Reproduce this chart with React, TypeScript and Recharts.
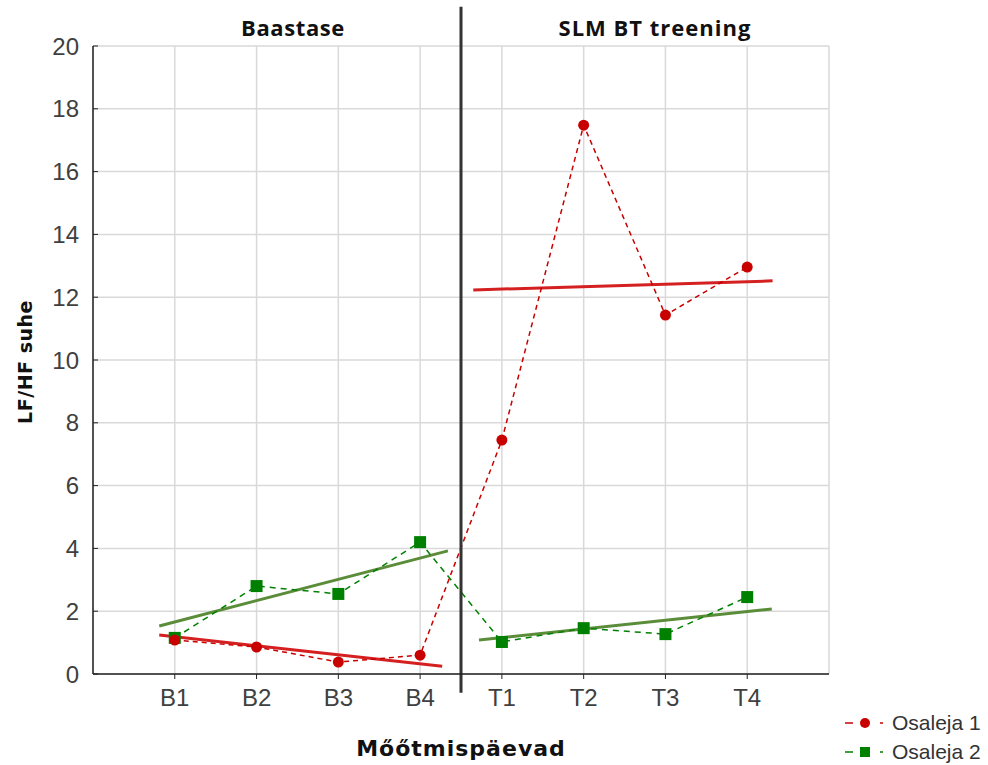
import {
  CartesianGrid,
  ComposedChart,
  Line,
  ReferenceLine,
  XAxis,
  YAxis,
} from "recharts"

const categories = ["B1", "B2", "B3", "B4", "T1", "T2", "T3", "T4"]
const osaleja1 = [1.08, 0.86, 0.38, 0.6, 7.45, 17.48, 11.43, 12.96]
const osaleja2 = [1.15, 2.8, 2.55, 4.2, 1.02, 1.46, 1.27, 2.45]
const yTicks = [0, 2, 4, 6, 8, 10, 12, 14, 16, 18, 20]

// fitted trend lines as [start, end]
const trend1Base = [{ x: 0.81, y: 1.24 }, { x: 4.27, y: 0.25 }]
const trend1Train = [{ x: 4.65, y: 12.23 }, { x: 8.31, y: 12.52 }]
const trend2Base = [{ x: 0.81, y: 1.53 }, { x: 4.34, y: 3.92 }]
const trend2Train = [{ x: 4.72, y: 1.08 }, { x: 8.3, y: 2.07 }]
const phaseSplit = [{ x: 4.5, y: -0.6 }, { x: 4.5, y: 21.25 }]

const data = categories.map((c, i) => ({ x: i + 1, name: c, o1: osaleja1[i], o2: osaleja2[i] }))

const RED = "#c80000"
const GREEN = "#008000"

const SquareDot = (props: any) => {
  const { cx, cy } = props
  if (cx == null || cy == null) return null
  return <rect x={cx - 6} y={cy - 6} width={12} height={12} fill={GREEN} />
}

const LegendBox = () => (
  <div
    style={{
      position: "absolute",
      left: 840,
      top: 708,
      fontFamily: "'Liberation Sans', Arial, sans-serif",
      fontSize: 21,
      color: "#333",
    }}
  >
    {[
      { label: "Osaleja 1", color: RED, square: false },
      { label: "Osaleja 2", color: GREEN, square: true },
    ].map((it) => (
      <div key={it.label} style={{ display: "flex", alignItems: "center", height: 29 }}>
        <svg width={50} height={14}>
          <line x1={5} y1={7} x2={13} y2={7} stroke={it.color} strokeWidth={1.5} />
          {it.square ? (
            <rect x={20} y={2} width={10} height={10} fill={it.color} />
          ) : (
            <circle cx={25} cy={7} r={5} fill={it.color} />
          )}
          <line x1={40} y1={7} x2={43} y2={7} stroke={it.color} strokeWidth={1.5} />
        </svg>
        <span style={{ marginLeft: 2 }}>{it.label}</span>
      </div>
    ))}
  </div>
)

const tickStyle = { fill: "#404040", fontSize: 24, fontFamily: "'Liberation Sans', Arial, sans-serif" }
const headStyle: React.CSSProperties = {
  position: "absolute",
  fontFamily: "'Open Sans', sans-serif",
  fontWeight: 700,
  fontSize: 22,
  letterSpacing: 0.6,
  color: "#111",
  transform: "translate(-50%, -50%)",
  whiteSpace: "nowrap",
}

export default function App() {
  return (
    <div style={{ position: "absolute", left: 0, top: 0, width: 988, height: 765, background: "#fff" }}>
      <ComposedChart width={988} height={765} data={data} margin={{ top: 46, right: 159, bottom: 0, left: 0 }}>
        <CartesianGrid stroke="#d9d9d9" strokeWidth={1.5} />
        <XAxis
          dataKey="x"
          type="number"
          domain={[0, 9]}
          ticks={[1, 2, 3, 4, 5, 6, 7, 8]}
          tickFormatter={(v) => categories[v - 1]}
          height={91}
          tickSize={5}
          tickMargin={10}
          axisLine={{ stroke: "#222", strokeWidth: 1.5 }}
          tickLine={{ stroke: "#222" }}
          tick={tickStyle}
        />
        <XAxis
          xAxisId="top"
          orientation="top"
          dataKey="x"
          type="number"
          domain={[0, 9]}
          ticks={[1, 2, 3, 4, 5, 6, 7, 8]}
          height={0}
          tick={false}
          tickSize={-5}
          axisLine={{ stroke: "#222", strokeWidth: 1.5 }}
          tickLine={{ stroke: "#222" }}
        />
        <YAxis
          type="number"
          domain={[0, 20]}
          ticks={yTicks}
          width={93}
          tickSize={-5}
          tickMargin={19}
          axisLine={{ stroke: "#222", strokeWidth: 1.5 }}
          tickLine={{ stroke: "#222" }}
          tick={tickStyle}
        />
        <YAxis
          yAxisId="right"
          orientation="right"
          type="number"
          domain={[0, 20]}
          ticks={yTicks}
          width={0}
          tick={false}
          tickSize={-5}
          axisLine={{ stroke: "#222", strokeWidth: 1.5 }}
          tickLine={{ stroke: "#222" }}
        />
        <ReferenceLine segment={trend2Base} stroke="#5b8c3a" strokeWidth={3} ifOverflow="visible" />
        <ReferenceLine segment={trend2Train} stroke="#5b8c3a" strokeWidth={3} ifOverflow="visible" />
        <ReferenceLine segment={trend1Base} stroke="#d42020" strokeWidth={3} ifOverflow="visible" />
        <ReferenceLine segment={trend1Train} stroke="#d42020" strokeWidth={3} ifOverflow="visible" />
        <Line
          dataKey="o2"
          type="linear"
          stroke={GREEN}
          strokeWidth={1.5}
          strokeDasharray="6 5"
          dot={<SquareDot />}
          activeDot={false}
          isAnimationActive={false}
        />
        <Line
          dataKey="o1"
          type="linear"
          stroke={RED}
          strokeWidth={1.5}
          strokeDasharray="5 4"
          dot={{ r: 5.5, fill: RED, stroke: RED, strokeWidth: 0, strokeDasharray: "" }}
          activeDot={false}
          isAnimationActive={false}
        />
        <ReferenceLine segment={phaseSplit} stroke="#333" strokeWidth={3} ifOverflow="visible" />
      </ComposedChart>
      <LegendBox />
      <div style={{ ...headStyle, left: 293, top: 27 }}>Baastase</div>
      <div style={{ ...headStyle, left: 655, top: 27, letterSpacing: 1 }}>SLM BT treening</div>
      <div
        style={{
          ...headStyle,
          fontFamily: "'DejaVu Sans', sans-serif",
          fontSize: 22,
          letterSpacing: 1,
          left: 461,
          top: 748,
        }}
      >
        Mőőtmispäevad
      </div>
      <div
        style={{
          ...headStyle,
          fontFamily: "'DejaVu Sans', sans-serif",
          fontSize: 19,
          letterSpacing: 0.5,
          left: 25,
          top: 362,
          transform: "translate(-50%, -50%) rotate(-90deg)",
        }}
      >
        LF/HF suhe
      </div>
    </div>
  )
}
